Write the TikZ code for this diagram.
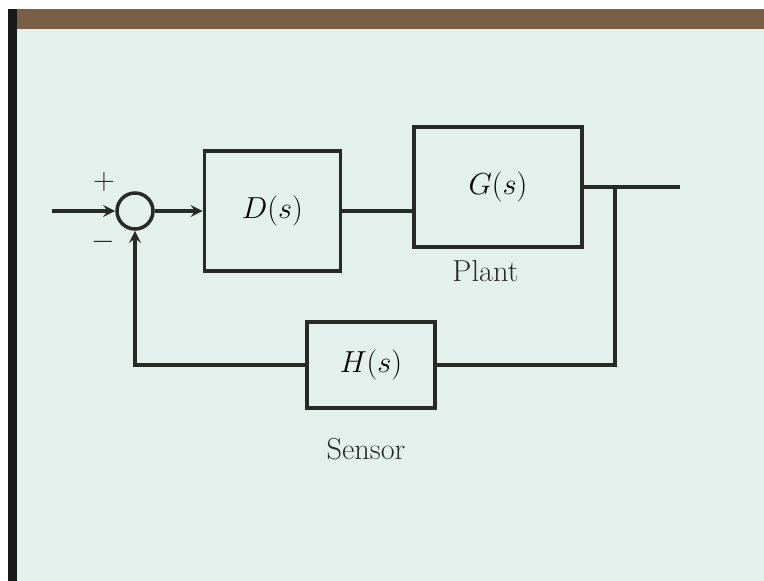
\documentclass[tikz,border=0pt]{standalone}
\usepackage{amsmath}
\usepackage{tikz}
\usetikzlibrary{arrows.meta, positioning, calc}
\usepackage{xcolor}
\definecolor{paper}{RGB}{228,240,235}
\definecolor{ink}{RGB}{40,42,40}
\definecolor{board}{RGB}{120,95,70}

\begin{document}
\begin{tikzpicture}[x=0.02cm, y=-0.02cm, node distance=1.5cm,
        box/.style={draw=ink, rectangle, line width=2pt, align=center, font=\LARGE},
        sumnode/.style={draw=ink, circle, line width=2pt, minimum size=0.72cm, inner sep=0pt},
        lbl/.style={font=\LARGE, text=ink},
        wire/.style={draw=ink, line width=2pt},
        arrow/.style={wire, ->, >=stealth}
    ]
        % Fondo (hoja)
        \useasboundingbox (0,0) rectangle (764,581);
        \fill[white] (0,0) rectangle (764,581);
        \fill[paper] (17,29) rectangle (764,581);
        \fill[board] (8,9) rectangle (764,29);
        \fill[black!90] (8,9) rectangle (17,581);

        % Bloques
        \node[sumnode] (sum) at (135,211) {};
        \node[box, minimum width=2.72cm, minimum height=2.4cm, right=0.96cm of sum] (ctrl) {$D(s)$};
        \node[box, minimum width=3.36cm, minimum height=2.4cm] (plant) at (498,187) {$G(s)$};
        \node[box, minimum width=2.56cm, minimum height=1.72cm] (sensor) at (371,365) {$H(s)$};

        % Etiquetas
        \node[lbl, below=0.1cm of plant, xshift=-0.25cm] (plantlbl) {Plant};
        \node[lbl, below=0.45cm of sensor, xshift=-0.1cm] (sensorlbl) {Sensor};
        \node[lbl] (plus) at (104,182) {$+$};
        \node[lbl] (minus) at (103,242) {$-$};

        \coordinate (in) at (52,211);
        \coordinate (out) at (680,187);
        \coordinate (branch) at (615,187);

        % Conexiones
        \draw[arrow] (in) -- (sum.west);
        \draw[arrow] (sum.east) -- (ctrl.west |- sum.east);
        \draw[wire] (ctrl.east |- sum.east) -- (plant.west |- sum.east);
        \draw[wire] (plant.east) -- (out);

        % Realimentacion
        \draw[wire] (branch) |- (sensor.east);
        \draw[arrow] (sensor.west) -| (sum.south);

    \end{tikzpicture}
\end{document}
